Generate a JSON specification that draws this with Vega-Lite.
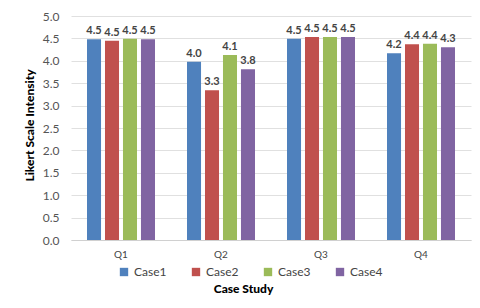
{
  "$schema": "https://vega.github.io/schema/vega-lite/v6.json",
  "width": 400,
  "height": 224,
  "autosize": {"type": "none"},
  "padding": {"left": 71, "top": 16, "right": 9, "bottom": 68},
  "background": "white",
  "config": {
    "font": "Lato",
    "view": {"stroke": null},
    "axis": {"labelFont": "Lato", "titleFont": "Lato"}
  },
  "data": {
    "values": [
      {"q": "Q1", "case": "Case1", "v": 4.48},
      {"q": "Q1", "case": "Case2", "v": 4.45},
      {"q": "Q1", "case": "Case3", "v": 4.49},
      {"q": "Q1", "case": "Case4", "v": 4.48},
      {"q": "Q2", "case": "Case1", "v": 3.98},
      {"q": "Q2", "case": "Case2", "v": 3.34},
      {"q": "Q2", "case": "Case3", "v": 4.13},
      {"q": "Q2", "case": "Case4", "v": 3.81},
      {"q": "Q3", "case": "Case1", "v": 4.49},
      {"q": "Q3", "case": "Case2", "v": 4.53},
      {"q": "Q3", "case": "Case3", "v": 4.53},
      {"q": "Q3", "case": "Case4", "v": 4.53},
      {"q": "Q4", "case": "Case1", "v": 4.17},
      {"q": "Q4", "case": "Case2", "v": 4.37},
      {"q": "Q4", "case": "Case3", "v": 4.38},
      {"q": "Q4", "case": "Case4", "v": 4.30}
    ]
  },
  "encoding": {
    "x": {
      "field": "q", "type": "nominal",
      "scale": {"paddingInner": 0.32, "paddingOuter": 0.16},
      "axis": {
        "title": "Case Study", "titleFontWeight": 900, "titleFontSize": 12, "titleColor": "#000",
        "titleY": 43, "titleX": 172, "titleAlign": "center",
        "labelAngle": 0, "labelFontSize": 10, "labelColor": "#444", "labelPadding": 9,
        "ticks": false, "domainColor": "#d0d0d0", "grid": false
      }
    },
    "xOffset": {"field": "case", "type": "nominal", "scale": {"paddingInner": 0.22}},
    "y": {
      "field": "v", "type": "quantitative",
      "scale": {"domain": [0, 5]},
      "axis": {
        "title": "Likert Scale Intensity", "titleFontWeight": 900, "titleFontSize": 12, "titleColor": "#000",
        "titleX": -35, "titleY": 109,
        "values": [0, 0.5, 1, 1.5, 2, 2.5, 3, 3.5, 4, 4.5, 5],
        "format": ".1f", "labelFontSize": 12, "labelColor": "#555", "labelPadding": 12,
        "ticks": false, "domain": false, "gridColor": "#e0e0e0"
      }
    }
  },
  "layer": [
    {
      "mark": {"type": "bar"},
      "encoding": {
        "color": {
          "field": "case", "type": "nominal",
          "scale": {"range": ["#4F81BD", "#C0504D", "#9BBB59", "#8064A2"]},
          "legend": {
            "orient": "none", "direction": "horizontal", "title": null,
            "legendX": 47, "legendY": 250,
            "symbolType": "square", "symbolSize": 70, "symbolStrokeWidth": 0,
            "labelFontSize": 12, "labelColor": "#444", "columnPadding": 23, "symbolOffset": 0, "labelOffset": 4
          }
        }
      }
    },
    {
      "mark": {"type": "text", "dy": -8, "fontSize": 11, "fontWeight": "bold", "color": "#444"},
      "encoding": {"text": {"field": "v", "type": "quantitative", "format": ".1f"}}
    }
  ]
}
